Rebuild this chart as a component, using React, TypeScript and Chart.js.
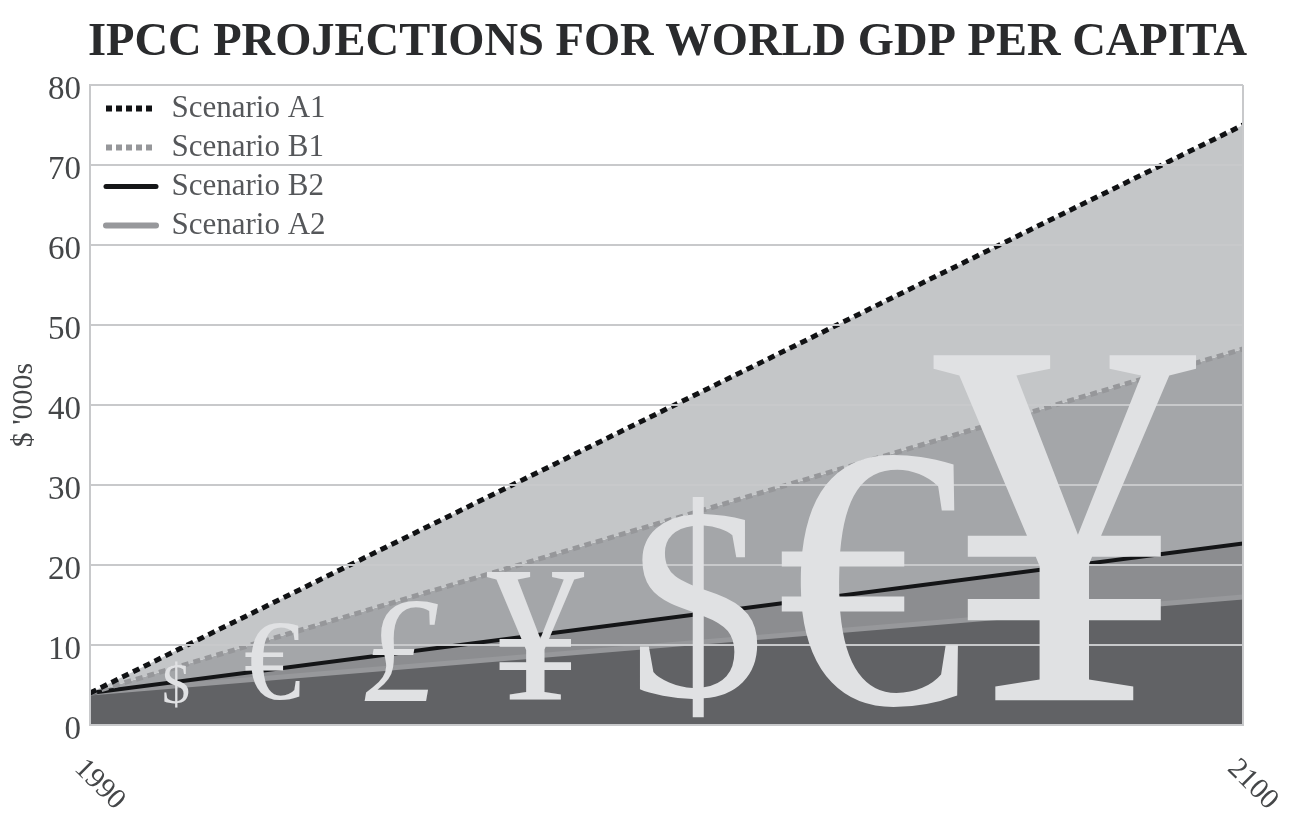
import React, { useEffect, useRef } from "react";
import { Chart, registerables } from "chart.js";

Chart.register(...registerables);

const years = [1990, 2100];
const scenarioA1 = [4, 75];
const scenarioB1 = [4, 47];
const scenarioB2 = [4, 22.7];
const scenarioA2 = [4, 16];
const yTicks = [0, 10, 20, 30, 40, 50, 60, 70, 80];

const symbols = ["$", "€", "£", "¥", "$", "€", "¥"];
const symbolYears = [1998.2, 2007.4, 2019.6, 2032.5, 2047.9, 2064.4, 2083];
const symbolBaselines = [2.7, 3.2, 3, 3.1, 3.6, 2.7, 3.1];
const symbolSizes = [56, 115, 150, 195, 275, 375, 527];
const symbolStyles = ["", "", "italic ", "", "", "", ""];

const SERIF = "'Liberation Serif', 'DejaVu Serif', serif";

const decor = {
  id: "decor",
  afterLayout(chart: any) {
    if (chart.legend) {
      chart.legend.left = 98;
      chart.legend.top = chart.chartArea.top;
    }
    if (chart.titleBlock) chart.titleBlock.right = 1247;
  },
  afterDraw(chart: any) {
    const { ctx, scales } = chart;
    ctx.save();
    // currency symbols, positioned through the scales
    ctx.fillStyle = "#e0e1e3";
    ctx.textAlign = "center";
    ctx.textBaseline = "alphabetic";
    symbols.forEach((s, i) => {
      ctx.font = `${symbolStyles[i]}${symbolSizes[i]}px ${SERIF}`;
      ctx.fillText(s, scales.x.getPixelForValue(symbolYears[i]), scales.y.getPixelForValue(symbolBaselines[i]));
    });
    // slanted year labels running down to the right
    ctx.fillStyle = "#444648";
    ctx.font = `29px ${SERIF}`;
    ctx.textAlign = "left";
    ctx.textBaseline = "middle";
    years.forEach((yr) => {
      ctx.save();
      ctx.translate(scales.x.getPixelForValue(yr) - 11, scales.y.bottom + 39);
      ctx.rotate(Math.PI / 4);
      ctx.fillText(String(yr), 0, 0);
      ctx.restore();
    });
    ctx.restore();
  },
};

export default function App() {
  const ref = useRef<HTMLCanvasElement>(null);
  useEffect(() => {
    document.body.style.margin = "0";
    document.body.style.background = "#fff";
    const line = (label: string, xs: number[], color: string, fill: string, target: any, width: number, dash: number[], cap: string) => ({
      label,
      data: years.map((x, i) => ({ x, y: xs[i] })),
      borderColor: color,
      backgroundColor: fill,
      fill: target,
      borderWidth: width,
      borderDash: dash,
      borderCapStyle: cap,
      pointRadius: 0,
      tension: 0,
    });
    const chart = new Chart(ref.current!, {
      type: "line",
      data: {
        datasets: [
          line("Scenario A1", scenarioA1, "#111214", "#c4c6c8", "+1", 5, [7, 5], "butt"),
          line("Scenario B1", scenarioB1, "#96979a", "#a4a6a9", "+1", 5, [7, 5], "butt"),
          line("Scenario B2", scenarioB2, "#141517", "#8c8d90", "+1", 4, [], "round"),
          line("Scenario A2", scenarioA2, "#97989b", "#616265", "origin", 5, [], "round"),
        ] as any,
      },
      plugins: [decor],
      options: {
        responsive: false,
        animation: false,
        layout: { padding: { right: 47, bottom: 0, left: 0, top: 0 } },
        plugins: {
          filler: { drawTime: "beforeDatasetsDraw" },
          tooltip: { enabled: false },
          title: {
            display: true,
            text: "IPCC PROJECTIONS FOR WORLD GDP PER CAPITA",
            color: "#2a2b2d",
            align: "end",
            font: { family: SERIF, size: 46.5, weight: "bold", lineHeight: 1 },
            padding: { top: 20, bottom: 18.5 },
          },
          legend: {
            position: "chartArea",
            align: "start",
            labels: {
              usePointStyle: true,
              pointStyle: "line",
              pointStyleWidth: 50,
              color: "#55575a",
              padding: 8,
              font: { family: SERIF, size: 31 },
              generateLabels(chart: any) {
                return Chart.defaults.plugins.legend.labels.generateLabels(chart).map((l: any) => {
                  const ds = chart.data.datasets[l.datasetIndex];
                  return {
                    ...l,
                    pointStyle: "line",
                    strokeStyle: ds.borderColor,
                    lineWidth: ds.borderWidth + 1,
                    lineDash: ds.borderDash.map((d: number) => d - 1),
                    lineCap: ds.borderCapStyle,
                  };
                });
              },
            },
          },
        } as any,
        scales: {
          x: {
            type: "linear",
            min: years[0],
            max: years[1],
            afterBuildTicks(s: any) {
              s.ticks = years.map((value) => ({ value }));
            },
            afterFit(s: any) {
              s.height = 88;
            },
            ticks: { display: false },
            border: { color: "#c8c9cb", width: 2, z: 1 },
            grid: { color: "#c8c9cb", lineWidth: 2, drawTicks: false, z: 1 },
          },
          y: {
            min: 0,
            max: 80,
            afterBuildTicks(s: any) {
              s.ticks = yTicks.map((value) => ({ value }));
            },
            afterFit(s: any) {
              s.width = 90;
            },
            title: { display: true, text: "$ '000s", color: "#444648", font: { family: SERIF, size: 30 }, padding: { top: 6, bottom: 0 } },
            ticks: { color: "#444648", padding: 9, labelOffset: 5, font: { family: SERIF, size: 33 } },
            border: { color: "#c8c9cb", width: 2, z: 1 },
            grid: { color: "#c8c9cb", lineWidth: 2, drawTicks: false, z: 1 },
          },
        },
      } as any,
    });
    return () => chart.destroy();
  }, []);
  return <canvas ref={ref} width={1290} height={813} style={{ display: "block", width: 1290, height: 813 }} />;
}
